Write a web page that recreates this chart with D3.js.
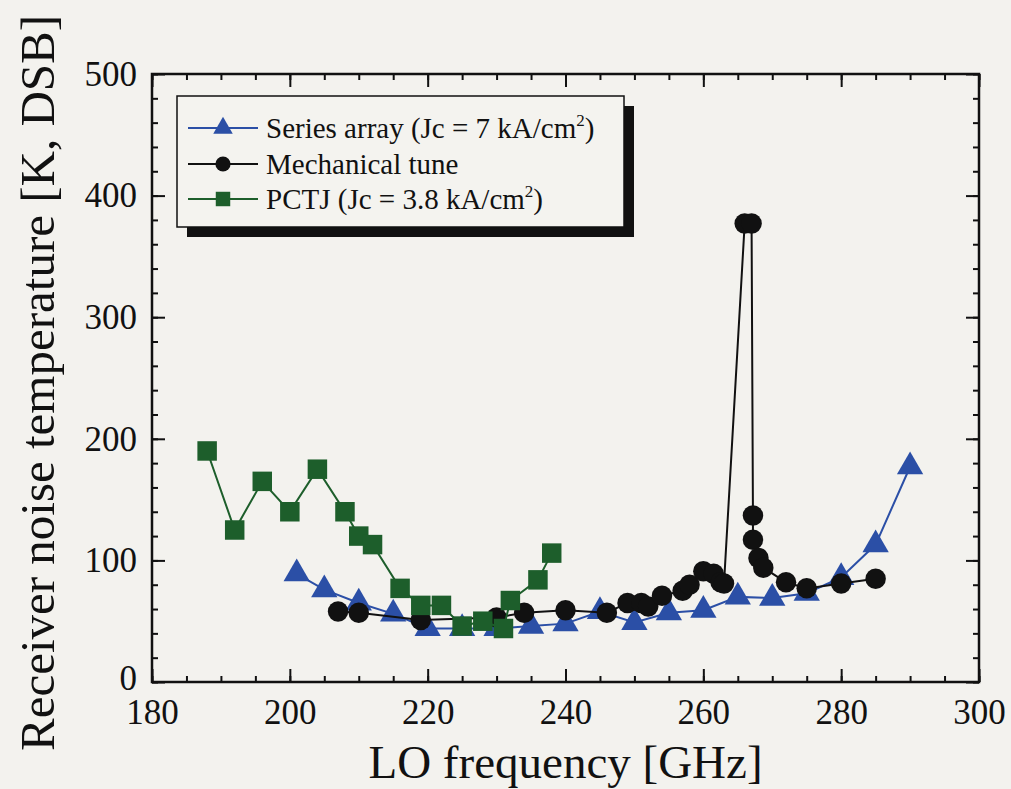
<!DOCTYPE html>
<html>
<head>
<meta charset="utf-8">
<script src="https://cdn.jsdelivr.net/npm/d3@7"></script>
<style>
  body { margin: 0; background: #f3f2ee; }
  svg { display: block; }
  text { font-family: "Liberation Serif", "Times New Roman", serif; fill: #111; }
</style>
</head>
<body>
<div id="chart"></div>
<script>
// LO frequency [GHz] and receiver noise temperature [K]
const seriesFreq = [201, 205, 210, 215, 220, 225, 230, 235, 240, 245, 250, 255, 260, 265, 270, 275, 280, 285, 290];
const seriesTemp = [89, 76, 65, 56, 44, 44, 44, 46, 48, 58, 49, 57, 59, 70, 69, 73, 86, 113, 177];

const mechFreq = [207, 210, 219, 230, 234, 240, 246, 249, 251, 252, 254, 257, 258, 260, 261.5, 262.5, 263, 266, 267, 267.2, 267.2, 268, 268.7, 272, 275, 280, 285];
const mechTemp = [58, 57, 51, 53, 57, 59, 57, 65, 65, 62, 71, 75, 80, 91, 89, 82, 81, 377, 377, 137, 117, 102, 94, 82, 77, 81, 85];

const pctjFreq = [188, 192, 196, 200, 204, 208, 210, 212, 216, 219, 222, 225, 228, 231, 232, 236, 238];
const pctjTemp = [190, 125, 165, 140, 175, 140, 120, 113, 77, 63, 63, 46, 50, 44, 67, 84, 106];

const xMajorTicks = [180, 200, 220, 240, 260, 280, 300];
const yMajorTicks = [0, 100, 200, 300, 400, 500];

const width = 1011;
const height = 789;
const margin = { top: 74, right: 32, bottom: 107, left: 152 };

const svg = d3.select("#chart").append("svg")
  .attr("width", width)
  .attr("height", height);

svg.append("rect")
  .attr("width", width)
  .attr("height", height)
  .attr("fill", "#f3f2ee");

const x = d3.scaleLinear()
  .domain([180, 300])
  .range([margin.left, width - margin.right]);

const y = d3.scaleLinear()
  .domain([0, 500])
  .range([height - margin.bottom, margin.top]);

const series = [
  { name: "series", freq: seriesFreq, temp: seriesTemp, color: "#2b4fa6", shape: d3.symbolTriangle, size: 300 },
  { name: "mech", freq: mechFreq, temp: mechTemp, color: "#111111", shape: d3.symbolCircle, size: 330 },
  { name: "pctj", freq: pctjFreq, temp: pctjTemp, color: "#1d5e2b", shape: d3.symbolSquare, size: 380 }
];

const line = d3.line()
  .x(d => x(d[0]))
  .y(d => y(d[1]));

// axes: inward ticks on all four sides
function styleAxis(g) {
  g.select(".domain").remove();
  g.selectAll(".tick line").attr("stroke", "#111").attr("stroke-width", 2);
  g.selectAll(".tick text").style("font-size", "35px").attr("fill", "#111");
}

svg.append("g")
  .attr("transform", `translate(0,${height - margin.bottom})`)
  .call(d3.axisBottom(x).tickValues(d3.range(180, 301, 5)).tickSize(-6).tickFormat(""))
  .call(styleAxis);

svg.append("g")
  .attr("transform", `translate(0,${height - margin.bottom})`)
  .call(d3.axisBottom(x).tickValues(xMajorTicks).tickSize(-13).tickPadding(17).tickFormat(d3.format("d")))
  .call(styleAxis);

svg.append("g")
  .attr("transform", `translate(0,${margin.top})`)
  .call(d3.axisTop(x).tickValues(d3.range(180, 301, 5)).tickSize(-6).tickFormat(""))
  .call(styleAxis);

svg.append("g")
  .attr("transform", `translate(0,${margin.top})`)
  .call(d3.axisTop(x).tickValues(xMajorTicks).tickSize(-13).tickFormat(""))
  .call(styleAxis);

svg.append("g")
  .attr("transform", `translate(${margin.left},0)`)
  .call(d3.axisLeft(y).tickValues(d3.range(0, 501, 20)).tickSize(-6).tickFormat(""))
  .call(styleAxis);

const yAxis = svg.append("g")
  .attr("transform", `translate(${margin.left},0)`)
  .call(d3.axisLeft(y).tickValues(yMajorTicks).tickSize(-13).tickPadding(15).tickFormat(d3.format("d")))
  .call(styleAxis);

// the "0" label sits a little higher than the rest, clear of "180"
yAxis.selectAll(".tick text").filter(d => d === 0).attr("dy", "0.2em");

svg.append("g")
  .attr("transform", `translate(${width - margin.right},0)`)
  .call(d3.axisRight(y).tickValues(d3.range(0, 501, 20)).tickSize(-6).tickFormat(""))
  .call(styleAxis);

svg.append("g")
  .attr("transform", `translate(${width - margin.right},0)`)
  .call(d3.axisRight(y).tickValues(yMajorTicks).tickSize(-13).tickFormat(""))
  .call(styleAxis);

svg.append("rect")
  .attr("x", margin.left)
  .attr("y", margin.top)
  .attr("width", width - margin.left - margin.right)
  .attr("height", height - margin.top - margin.bottom)
  .attr("fill", "none")
  .attr("stroke", "#111")
  .attr("stroke-width", 2.5);

// legend box with drop shadow
const legend = svg.append("g");

legend.append("rect")
  .attr("x", 187).attr("y", 106)
  .attr("width", 447).attr("height", 131)
  .attr("fill", "#111");

legend.append("rect")
  .attr("x", 177).attr("y", 96)
  .attr("width", 447).attr("height", 131)
  .attr("fill", "#f4f3ef")
  .attr("stroke", "#111")
  .attr("stroke-width", 1.5);

const legendRows = [
  { s: series[0], y: 128, parts: ["Series array (Jc = 7 kA/cm", "2", ")"] },
  { s: series[1], y: 164, parts: ["Mechanical tune"] },
  { s: series[2], y: 199, parts: ["PCTJ (Jc = 3.8 kA/cm", "2", ")"] }
];

legendRows.forEach(row => {
  const g = legend.append("g");
  g.append("line")
    .attr("x1", 188).attr("x2", 258)
    .attr("y1", row.y).attr("y2", row.y)
    .attr("stroke", row.s.color)
    .attr("stroke-width", 2);
  g.append("path")
    .attr("transform", `translate(223,${row.y})`)
    .attr("d", d3.symbol().type(row.s.shape).size(row.s.size * 0.55)())
    .attr("fill", row.s.color);
  const t = g.append("text")
    .attr("x", 266)
    .attr("y", row.y + 10)
    .style("font-size", "29px");
  t.append("tspan").text(row.parts[0]);
  if (row.parts.length > 1) {
    t.append("tspan").attr("dy", -12).style("font-size", "17px").text(row.parts[1]);
    t.append("tspan").attr("dy", 12).text(row.parts[2]);
  }
});

// data lines and markers
series.forEach(s => {
  const pts = s.freq.map((f, i) => [f, s.temp[i]]);
  svg.append("path")
    .datum(pts)
    .attr("fill", "none")
    .attr("stroke", s.color)
    .attr("stroke-width", 2)
    .attr("d", line);
  svg.append("g")
    .selectAll("path")
    .data(pts)
    .join("path")
    .attr("transform", d => `translate(${x(d[0])},${y(d[1])})`)
    .attr("d", d3.symbol().type(s.shape).size(s.size)())
    .attr("fill", s.color);
});

// axis titles
svg.append("text")
  .attr("x", (margin.left + width - margin.right) / 2)
  .attr("y", 778)
  .attr("text-anchor", "middle")
  .style("font-size", "47px")
  .text("LO frequency [GHz]");

svg.append("text")
  .attr("transform", `translate(54,${(margin.top + height - margin.bottom) / 2 + 5}) rotate(-90)`)
  .attr("text-anchor", "middle")
  .style("font-size", "49px")
  .text("Receiver noise temperature [K, DSB]");
</script>
</body>
</html>
